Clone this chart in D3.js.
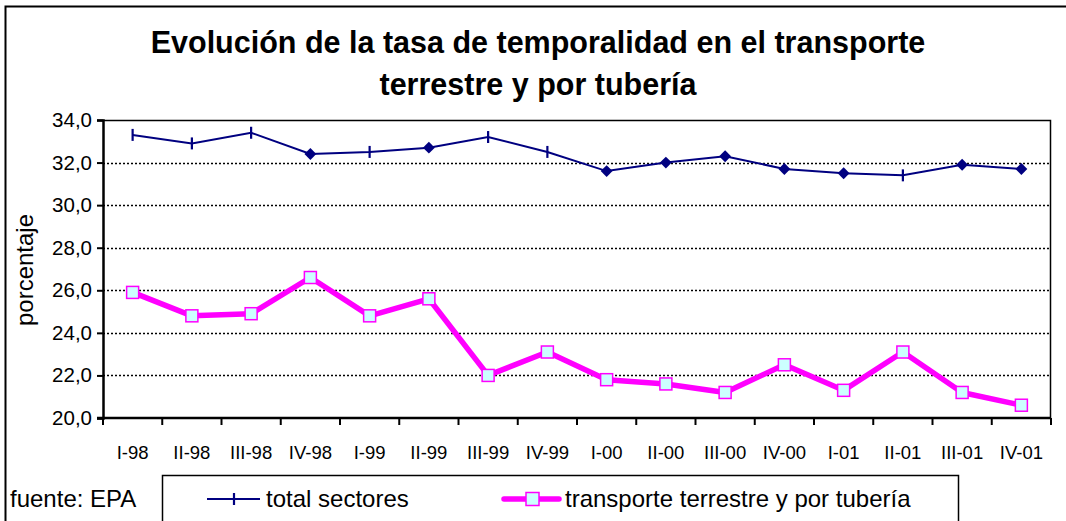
<!DOCTYPE html>
<html>
<head>
<meta charset="utf-8">
<script src="https://cdn.jsdelivr.net/npm/d3@7"></script>
<style>
  body { margin: 0; background: #fff; }
  svg { font-family: "Liberation Sans", Arial, sans-serif; }
</style>
</head>
<body>
<div id="chart"></div>
<script>
var quarters = ["I-98", "II-98", "III-98", "IV-98", "I-99", "II-99", "III-99", "IV-99",
                "I-00", "II-00", "III-00", "IV-00", "I-01", "II-01", "III-01", "IV-01"];
var totalSectores = [33.3, 32.9, 33.4, 32.4, 32.5, 32.7, 33.2, 32.5,
                     31.6, 32.0, 32.3, 31.7, 31.5, 31.4, 31.9, 31.7];
var transporte = [25.9, 24.8, 24.9, 26.6, 24.8, 25.6, 22.0, 23.1,
                  21.8, 21.6, 21.2, 22.5, 21.3, 23.1, 21.2, 20.6];
var yTicks = [20, 22, 24, 26, 28, 30, 32, 34];
var titleLines = ["Evolución de la tasa de temporalidad en el transporte", "terrestre y por tubería"];
var seriesNames = ["total sectores", "transporte terrestre y por tubería"];

// the original export draws some of the navy markers as ticks and some as diamonds
var navyMarks = ["tick", "tick", "tick", "diamond", "tick", "diamond", "tick", "tick",
                 "diamond", "diamond", "diamond", "diamond", "diamond", "tick", "diamond", "diamond"];

let W = 1066, H = 521;
let margin = {top: 120, right: 15, bottom: 103, left: 103};
let width = W - margin.left - margin.right;
let height = H - margin.top - margin.bottom;

let svg = d3.select("#chart")
    .append("svg")
    .attr("width", W)
    .attr("height", H);

// outer frame (left and top edges visible)
svg.append("path")
    .attr("d", "M5.5," + H + "V6.5H" + W)
    .attr("fill", "none")
    .attr("stroke", "#000")
    .attr("stroke-width", 2);

svg.selectAll("text.title")
    .data(titleLines)
    .enter()
    .append("text")
    .attr("class", "title")
    .attr("x", 538)
    .attr("y", (d, i) => 53 + i * 42)
    .attr("text-anchor", "middle")
    .style("font-size", "30.5px")
    .style("font-weight", "bold")
    .text(d => d);

let g = svg.append("g")
    .attr("transform", `translate(${margin.left}, ${margin.top})`);

let x = d3.scaleBand()
    .domain(quarters)
    .range([0, width]);

let y = d3.scaleLinear()
    .domain([20, 34])
    .range([height, 0]);

// dotted gridlines
g.selectAll("line.grid")
    .data(yTicks.filter(d => d > 20 && d < 34))
    .enter()
    .append("line")
    .attr("x1", 0)
    .attr("x2", width)
    .attr("y1", d => Math.round(y(d)) + 0.5)
    .attr("y2", d => Math.round(y(d)) + 0.5)
    .attr("stroke", "#000")
    .attr("stroke-width", 1.3)
    .attr("stroke-dasharray", "2,2");

// top and right plot border
g.append("path")
    .attr("d", `M0,0.5H${width - 0.5}V${height}`)
    .attr("fill", "none")
    .attr("stroke", "#000")
    .attr("stroke-width", 1.5);

// y axis
let yAxis = g.append("g")
    .call(d3.axisLeft(y).tickValues(yTicks).tickSize(6).tickPadding(5)
        .tickFormat(d => d3.format(".1f")(d).replace(".", ",")));
yAxis.select(".domain").attr("stroke-width", 2.5);
yAxis.selectAll(".tick line").attr("stroke-width", 2);
yAxis.selectAll("text")
    .style("font-size", "20.5px")
    .style("font-family", "Liberation Sans, Arial, sans-serif")
    .attr("fill", "#000");

// x axis: ticks between categories
let xAxis = g.append("g")
    .attr("transform", `translate(0, ${height})`);
xAxis.append("line")
    .attr("x1", -6).attr("x2", width)
    .attr("stroke", "#000").attr("stroke-width", 2.5);
xAxis.selectAll("line.tk")
    .data(d3.range(quarters.length + 1))
    .enter()
    .append("line")
    .attr("x1", i => i * x.bandwidth())
    .attr("x2", i => i * x.bandwidth())
    .attr("y1", 0).attr("y2", 7)
    .attr("stroke", "#000").attr("stroke-width", 2);
xAxis.selectAll("text")
    .data(quarters)
    .enter()
    .append("text")
    .attr("x", d => x(d) + x.bandwidth() / 2)
    .attr("y", 41)
    .attr("text-anchor", "middle")
    .style("font-size", "18.5px")
    .text(d => d);

svg.append("text")
    .attr("transform", "translate(33, 270) rotate(-90)")
    .attr("text-anchor", "middle")
    .style("font-size", "24px")
    .text("porcentaje");

let cx = (d, i) => x(quarters[i]) + x.bandwidth() / 2;

// total sectores
g.append("path")
    .datum(totalSectores)
    .attr("fill", "none")
    .attr("stroke", "#000080")
    .attr("stroke-width", 2)
    .attr("d", d3.line().x(cx).y(d => y(d)));

let diamond = d3.symbol().type(d3.symbolDiamond2).size(90);
g.selectAll("g.navy")
    .data(totalSectores)
    .enter()
    .append("g")
    .attr("transform", (d, i) => `translate(${cx(d, i)}, ${y(d)})`)
    .each(function(d, i) {
        let m = d3.select(this);
        if (navyMarks[i] === "diamond") {
            m.append("path").attr("d", diamond()).attr("fill", "#000080");
        } else {
            m.append("line").attr("y1", -6).attr("y2", 6)
                .attr("stroke", "#000080").attr("stroke-width", 2.2);
        }
    });

// transporte
g.append("path")
    .datum(transporte)
    .attr("fill", "none")
    .attr("stroke", "#ff00ff")
    .attr("stroke-width", 5.5)
    .attr("stroke-linejoin", "round")
    .attr("d", d3.line().x(cx).y(d => y(d)));

g.selectAll("rect.sq")
    .data(transporte)
    .enter()
    .append("rect")
    .attr("x", (d, i) => cx(d, i) - 6)
    .attr("y", d => y(d) - 6)
    .attr("width", 12)
    .attr("height", 12)
    .attr("fill", "#ccffff")
    .attr("stroke", "#ff00ff")
    .attr("stroke-width", 1.5);

// source note
svg.append("text")
    .attr("x", 10)
    .attr("y", 507)
    .style("font-size", "24px")
    .text("fuente: EPA");

// legend
let legend = svg.append("g");
legend.append("rect")
    .attr("x", 162.5).attr("y", 475.5)
    .attr("width", 796).attr("height", 60)
    .attr("fill", "none")
    .attr("stroke", "#000")
    .attr("stroke-width", 1.5);

let lx = [207, 504];
let ly = 499;
legend.append("line")
    .attr("x1", lx[0]).attr("x2", lx[0] + 53)
    .attr("y1", ly).attr("y2", ly)
    .attr("stroke", "#000080").attr("stroke-width", 2);
legend.append("line")
    .attr("x1", lx[0] + 27).attr("x2", lx[0] + 27)
    .attr("y1", ly - 6).attr("y2", ly + 6)
    .attr("stroke", "#000080").attr("stroke-width", 2.2);
legend.append("line")
    .attr("x1", lx[1]).attr("x2", lx[1] + 55)
    .attr("y1", ly).attr("y2", ly)
    .attr("stroke", "#ff00ff").attr("stroke-width", 5.5)
    .attr("stroke-linecap", "round");
legend.append("rect")
    .attr("x", lx[1] + 22).attr("y", ly - 6.5)
    .attr("width", 13).attr("height", 13)
    .attr("fill", "#ccffff")
    .attr("stroke", "#ff00ff").attr("stroke-width", 1.5);
legend.selectAll("text")
    .data(seriesNames)
    .enter()
    .append("text")
    .attr("x", (d, i) => lx[i] + (i === 0 ? 59 : 61))
    .attr("y", ly + 8)
    .style("font-size", "24px")
    .text(d => d);
</script>
</body>
</html>
